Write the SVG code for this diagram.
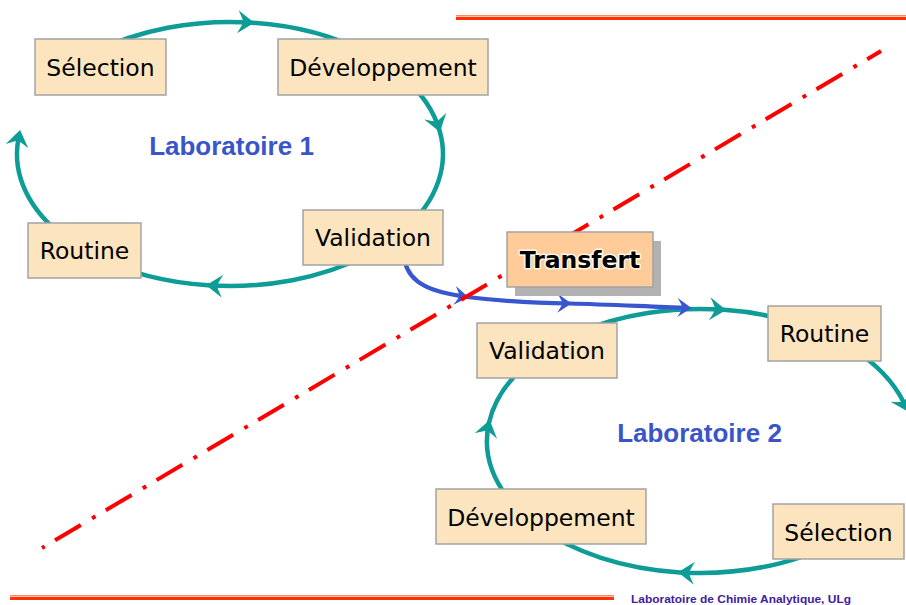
<svg xmlns="http://www.w3.org/2000/svg" width="906" height="605" viewBox="0 0 906 605">
  <style>
    .box { fill: #FCE4BE; stroke: #A3A3A3; stroke-width: 1.5; }
    .boxText { font-family: "DejaVu Sans", Verdana, sans-serif; font-size: 23.5px; fill: #000; text-anchor: middle; }
    .lab { font-family: "Liberation Sans", Arial, sans-serif; font-size: 26px; font-weight: bold; fill: #3A55C8; text-anchor: middle; }
    .cycle { fill: none; stroke: #0E9C96; stroke-width: 4.5; marker-mid: url(#tealMid); }
    .cycleEnd { fill: none; stroke: #0E9C96; stroke-width: 4.5; marker-end: url(#tealEnd); }
    .transfer { fill: none; stroke: #3A55D0; stroke-width: 4.2; marker-mid: url(#blueMid); marker-end: url(#blueEnd); }
  </style>
  <defs>
    <marker id="tealMid" viewBox="-17 -13 20 26" refX="0" refY="0" markerWidth="20" markerHeight="26" markerUnits="userSpaceOnUse" orient="auto">
      <path d="M2,0 L-14.5,-11.5 Q-10,-3.5 -9,0 Q-10,3.5 -14.5,11.5 Z" fill="#0E9C96"/>
    </marker>
    <marker id="tealEnd" viewBox="-17 -13 20 26" refX="-7" refY="0" markerWidth="20" markerHeight="26" markerUnits="userSpaceOnUse" orient="auto">
      <path d="M2,0 L-14.5,-11.5 Q-10,-3.5 -9,0 Q-10,3.5 -14.5,11.5 Z" fill="#0E9C96"/>
    </marker>
    <marker id="blueMid" viewBox="-15 -11 17 22" refX="0" refY="0" markerWidth="17" markerHeight="22" markerUnits="userSpaceOnUse" orient="auto">
      <path d="M1.5,0 L-12.5,-9.5 Q-8.5,-3 -7.5,0 Q-8.5,3 -12.5,9.5 Z" fill="#3A55D0"/>
    </marker>
    <marker id="blueEnd" viewBox="-15 -11 17 22" refX="-5" refY="0" markerWidth="17" markerHeight="22" markerUnits="userSpaceOnUse" orient="auto">
      <path d="M1.5,0 L-12.5,-9.5 Q-8.5,-3 -7.5,0 Q-8.5,3 -12.5,9.5 Z" fill="#3A55D0"/>
    </marker>
  </defs>

  <!-- header and footer rules -->
  <rect x="456" y="15" width="450" height="1.5" fill="#FF8A66"/>
  <rect x="456" y="17" width="450" height="3" fill="#FF3300"/>
  <rect x="10" y="595" width="604" height="1.5" fill="#FF8A66"/>
  <rect x="10" y="597" width="604" height="3" fill="#FF3300"/>

  <g id="connectors">
    <!-- Laboratoire 1 cycle: ellipse centre (230,154), radii 213 x 132 -->
    <path class="cycle" d="M93.1,52.9 A213,132 0 0 1 252.3,22.7 A213,132 0 0 1 366.9,52.9"/>
    <path class="cycle" d="M404.5,78.3 A213,132 0 0 1 439.4,130 A213,132 0 0 1 404.5,229.7"/>
    <path class="cycle" d="M366.9,255.1 A213,132 0 0 1 208.1,285.3 A213,132 0 0 1 93.1,255.1"/>
    <path class="cycleEnd" d="M66.8,238.9 A213,132 0 0 1 18.4,138.8"/>
    <!-- Laboratoire 2 cycle: ellipse centre (700,441), radii 213 x 132 -->
    <path class="cycle" d="M577.8,332.9 A213,132 0 0 1 724.1,309.8 A213,132 0 0 1 836.9,339.9"/>
    <path class="cycleEnd" d="M850.6,347.7 A213,132 0 0 1 904.2,403.5"/>
    <path class="cycle" d="M863.2,525.8 A213,132 0 0 1 680,572.4 A213,132 0 0 1 536.8,525.8"/>
    <path class="cycle" d="M507,496.8 A213,132 0 0 1 489.2,421.9 A213,132 0 0 1 525.5,365.3"/>
    <!-- transfer from Laboratoire 1 to Laboratoire 2 -->
    <path class="transfer" d="M405,262 C410,284 432,292 467,297 C500,301 535,303 570,303.5 C610,304.5 655,307 685,307.8"/>
  </g>

  <!-- dash-dot boundary between the two laboratories -->
  <line x1="881" y1="51" x2="42" y2="548" stroke="#FF0000" stroke-width="4" stroke-dasharray="30 12 4 13" stroke-dashoffset="14"/>

  <!-- Laboratoire 1 -->
  <g id="lab1-selection">
    <rect class="box" x="35" y="39" width="131" height="56"/>
    <text class="boxText" x="100.5" y="76">Sélection</text>
  </g>
  <g id="lab1-developpement">
    <rect class="box" x="278" y="39" width="210" height="56"/>
    <text class="boxText" x="383" y="76">Développement</text>
  </g>
  <g id="lab1-validation">
    <rect class="box" x="303" y="210" width="140" height="55"/>
    <text class="boxText" x="373" y="246">Validation</text>
  </g>
  <g id="lab1-routine">
    <rect class="box" x="28" y="223" width="113" height="55"/>
    <text class="boxText" x="84.5" y="259">Routine</text>
  </g>
  <g id="lab1-label">
    <text class="lab" x="231.5" y="155">Laboratoire 1</text>
  </g>

  <!-- Transfert -->
  <g id="transfert">
    <rect x="515" y="241" width="146" height="55" fill="#B2B2B2"/>
    <rect x="507" y="232" width="146" height="55" fill="#FFCC99" stroke="#A3A3A3" stroke-width="1.5"/>
    <text x="580" y="268" font-family="'DejaVu Sans', Verdana, sans-serif" font-size="23.5" font-weight="bold" text-anchor="middle" fill="#000" stroke="#FFF6E8" stroke-width="3" stroke-linejoin="round" paint-order="stroke">Transfert</text>
  </g>

  <!-- Laboratoire 2 -->
  <g id="lab2-validation">
    <rect class="box" x="477" y="323" width="140" height="55"/>
    <text class="boxText" x="547" y="359">Validation</text>
  </g>
  <g id="lab2-routine">
    <rect class="box" x="768" y="306" width="113" height="55"/>
    <text class="boxText" x="824.5" y="342">Routine</text>
  </g>
  <g id="lab2-developpement">
    <rect class="box" x="436" y="489" width="210" height="55"/>
    <text class="boxText" x="541" y="526">Développement</text>
  </g>
  <g id="lab2-selection">
    <rect class="box" x="773" y="504" width="131" height="55"/>
    <text class="boxText" x="838.5" y="541">Sélection</text>
  </g>
  <g id="lab2-label">
    <text class="lab" x="699.5" y="442">Laboratoire 2</text>
  </g>

  <!-- footer credit -->
  <text x="631" y="603" font-family="'Liberation Sans', Arial, sans-serif" font-size="11" font-weight="bold" fill="#4020A0" textLength="220" lengthAdjust="spacingAndGlyphs">Laboratoire de Chimie Analytique, ULg</text>
</svg>
